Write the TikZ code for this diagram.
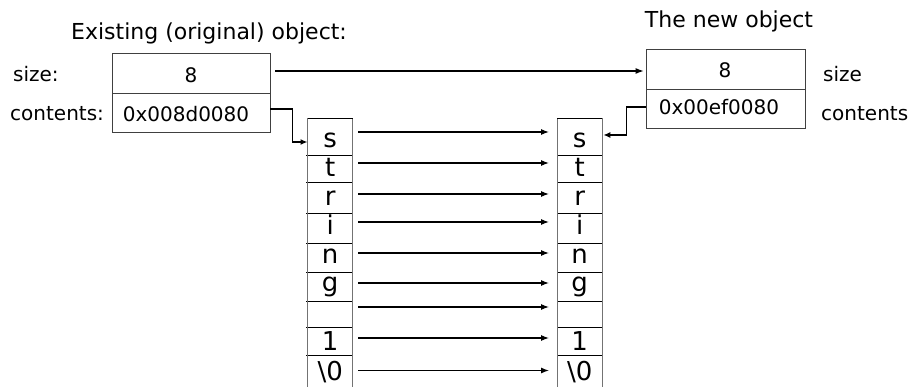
\documentclass[tikz,border=0pt]{standalone}
\usepackage{fontspec}
\setmainfont{DejaVu Sans}
\usetikzlibrary{arrows.meta,calc}
\begin{document}
\begin{tikzpicture}[x=1pt,y=-1pt,
  txt/.style={font=\fontsize{20}{24}\selectfont, inner sep=0pt},
  celltxt/.style={font=\fontsize{26}{30}\selectfont, inner sep=0pt, anchor=base},
  ttl/.style={font=\fontsize{22}{26}\selectfont, inner sep=0pt, anchor=base},
  boxcell/.style={draw=black!75, line width=0.8pt, minimum width=158pt, inner sep=0pt},
  strcell/.style={minimum width=45pt, inner sep=0pt, draw=none},
  rowarr/.style={line width=1.1pt, -{Latex[length=8pt,width=6pt]}},
  ptrarr/.style={line width=1.3pt, -{Latex[length=7pt,width=6pt]}}]
\useasboundingbox (0,0) rectangle (913,387);
% titles
\node[ttl] (t1) at (209,40) {Existing (original) object:};
\node[ttl] (t2) at (729,28) {The new object};
% left object
\node[boxcell, minimum height=40pt] (lsize) at (191,73) {};
\node[boxcell, minimum height=39pt] (lcont) at (191,112.5) {};
\node[txt, anchor=base] (lsizev) at (191,83) {8};
\node[txt, anchor=base] (lcontv) at (186,121.5) {0x008d0080};
\node[txt, anchor=base west] (lsizel) at (13,82) {size:};
\node[txt, anchor=base west] (lcontl) at (10,121) {contents:};
% right object
\node[boxcell, minimum height=40pt, minimum width=159pt] (rsize) at (725.5,69) {};
\node[boxcell, minimum height=39pt, minimum width=159pt] (rcont) at (725.5,108.5) {};
\node[txt, anchor=base] (rsizev) at (725,77.5) {8};
\node[txt, anchor=base] (rcontv) at (719,115) {0x00ef0080};
\node[txt, anchor=base west] (rsizel) at (823,82) {size};
\node[txt, anchor=base west] (rcontl) at (821,121) {contents};
% string columns
\foreach \i/\c/\h/\s/\bl/\dy in {1/137/36/s/148/5, 2/168.5/27/t/177/5.5, 3/197.5/31/r/206/3.5,
    4/228/30/i/235/6, 5/257.5/29/n/264/4.5, 6/286.5/29/g/292/3.5, 7/314/26/{}/322/7,
    8/341/28/1/350/3, 9/373.5/37/\textbackslash0/380/3} {
  \node[strcell, minimum height=\h pt] (l\i) at (330.2,\c) {};
  \node[strcell, minimum height=\h pt] (r\i) at (579.7,\c) {};
  \node[celltxt] (lt\i) at (330.2,\bl) {\s};
  \node[celltxt] (rt\i) at (579.7,\bl) {\s};
  \draw[rowarr] ([xshift=5.5pt,yshift=\dy pt]l\i.east) -- ([xshift=-8pt,yshift=\dy pt]r\i.west);
}
\foreach \i in {1,...,8} {
  \draw[line width=0.9pt] ([xshift=-1.5pt]l\i.south west) -- (l\i.south east);
  \draw[line width=0.9pt] (r\i.south west) -- ([xshift=1pt]r\i.south east);
}
\draw[black!55, line width=0.9pt] (l1.north west) rectangle (l9.south east);
\draw[black!55, line width=0.9pt] (r1.north west) rectangle (r9.south east);
\draw[line width=0.9pt] (l1.north west) -- (l1.north east);
\draw[line width=0.9pt] (r1.north west) -- (r1.north east);
% pointers
\draw[rowarr] ([xshift=5pt,yshift=2pt]lsize.east) -- ([xshift=-2pt,yshift=-2pt]rsize.west);
\draw[ptrarr] ([yshift=3.5pt]lcont.east) -- ++(22,0) |- ([yshift=-5pt]l1.west);
\draw[ptrarr] ([yshift=1.5pt]rcont.west) -- ++(-19,0) |- ([yshift=2pt,xshift=1pt]r1.east);
\end{tikzpicture}
\end{document}
